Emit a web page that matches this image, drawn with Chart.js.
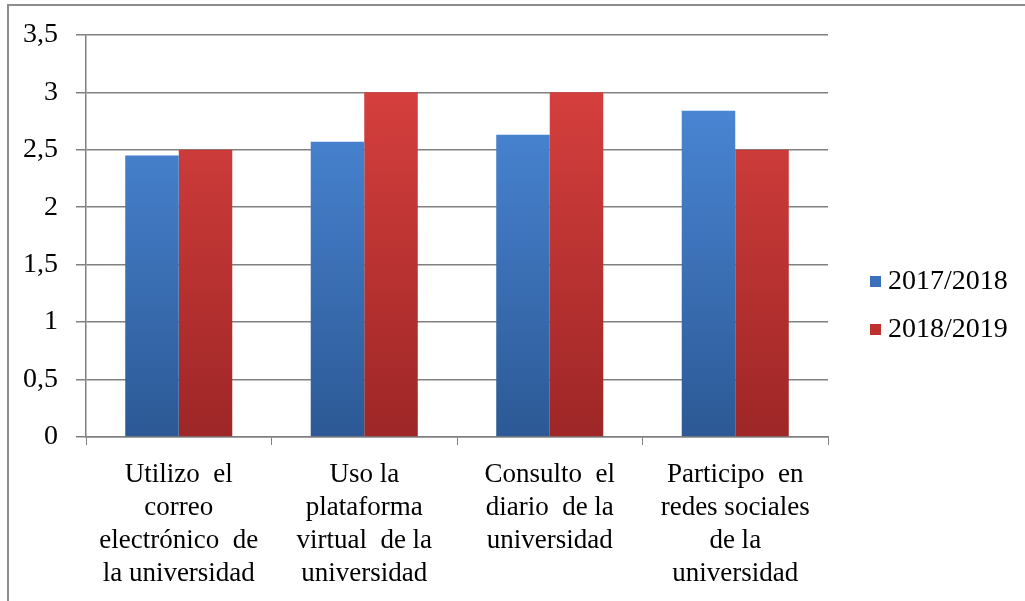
<!DOCTYPE html>
<html>
<head>
<meta charset="utf-8">
<script src="https://cdn.jsdelivr.net/npm/chart.js@4.4.1/dist/chart.umd.min.js"></script>
<style>
html,body{margin:0;padding:0;background:#fff;}
#wrap{width:1025px;height:601px;position:relative;}
</style>
</head>
<body>
<div id="wrap"><canvas id="c" width="1025" height="601"></canvas></div>
<script>
const categories = [
  ["Utilizo  el", "correo", "electrónico  de", "la universidad"],
  ["Uso la", "plataforma", "virtual  de la", "universidad"],
  ["Consulto  el", "diario  de la", "universidad"],
  ["Participo  en", "redes sociales", "de la", "universidad"]
];
const seriesNames = ["2017/2018", "2018/2019"];
const values2017 = [2.45, 2.57, 2.63, 2.84];
const values2018 = [2.5, 3, 3, 2.5];
const yTicks = [0, 0.5, 1, 1.5, 2, 2.5, 3, 3.5];

const FONT = "'Liberation Serif', 'Times New Roman', serif";
const palettes = [
  {top: '#4a87d6', bottom: '#2c5995', legend: '#3a70bb'},
  {top: '#d43f3d', bottom: '#9e2626', legend: '#c0302e'}
];

function grad(idx) {
  return function(context) {
    const chart = context.chart;
    const area = chart.chartArea;
    if (!area) return palettes[idx].legend;
    const g = chart.ctx.createLinearGradient(0, area.top + 60, 0, area.bottom);
    g.addColorStop(0, palettes[idx].top);
    g.addColorStop(1, palettes[idx].bottom);
    return g;
  };
}

const framePlugin = {
  id: 'frame',
  afterDraw(chart) {
    const ctx = chart.ctx;
    ctx.save();
    ctx.strokeStyle = '#8c8c8c';
    ctx.lineWidth = 2;
    ctx.beginPath();
    ctx.moveTo(8, 601);
    ctx.lineTo(8, 5);
    ctx.lineTo(1025, 5);
    ctx.stroke();
    ctx.restore();
  }
};

const legendPlugin = {
  id: 'customLegend',
  afterDraw(chart) {
    const ctx = chart.ctx;
    ctx.save();
    ctx.font = "28px " + FONT;
    ctx.textBaseline = 'middle';
    ctx.textAlign = 'left';
    const ys = [281, 329];
    chart.data.datasets.forEach((ds, i) => {
      ctx.fillStyle = palettes[i].legend;
      ctx.fillRect(870, ys[i] - 5, 11, 11);
      ctx.fillStyle = '#000';
      ctx.fillText(ds.label, 888, ys[i] + 1);
    });
    ctx.restore();
  }
};

new Chart(document.getElementById('c'), {
  type: 'bar',
  data: {
    labels: categories,
    datasets: [
      {label: seriesNames[0], data: values2017, backgroundColor: grad(0), borderWidth: 0},
      {label: seriesNames[1], data: values2018, backgroundColor: grad(1), borderWidth: 0}
    ]
  },
  options: {
    responsive: false,
    animation: false,
    devicePixelRatio: 1,
    layout: {padding: {top: 32, right: 197, left: 0, bottom: 0}},
    categoryPercentage: 0.577,
    barPercentage: 1,
    plugins: {legend: {display: false}, tooltip: {enabled: false}},
    scales: {
      x: {
        grid: {display: true, drawOnChartArea: false, drawTicks: true, tickLength: 8, color: '#808080', offset: true},
        border: {display: true, color: '#808080', width: 1.5},
        ticks: {color: '#000', font: {family: FONT, size: 27, lineHeight: 1.23}, padding: 13, maxRotation: 0, autoSkip: false},
        afterFit(scale) { scale.height = 164; }
      },
      y: {
        min: 0, max: 3.5,
        afterBuildTicks(scale) { scale.ticks = yTicks.map(v => ({value: v})); },
        grid: {color: '#808080', lineWidth: 1.5, tickLength: 10, drawTicks: true},
        border: {display: true, color: '#808080', width: 1.5},
        ticks: {
          color: '#000', font: {family: FONT, size: 28}, padding: 18,
          callback: v => String(v).replace('.', ',')
        },
        afterFit(scale) { scale.width = 86; }
      }
    }
  },
  plugins: [framePlugin, legendPlugin]
});
</script>
</body>
</html>
